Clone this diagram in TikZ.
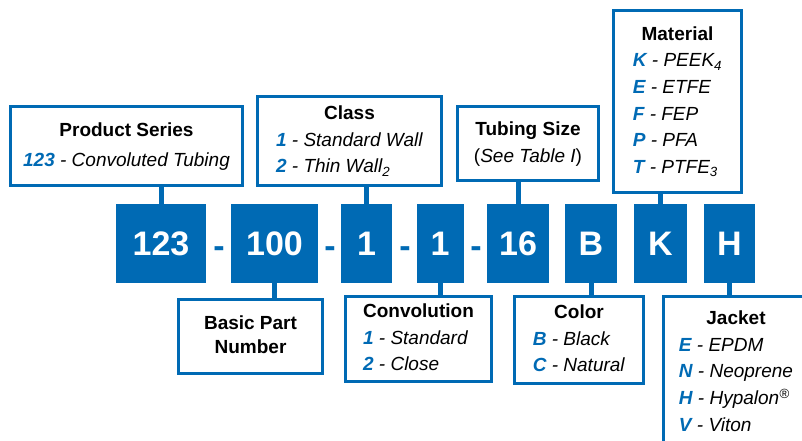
\documentclass[tikz,border=0pt]{standalone}
\usepackage{fontspec}
\setmainfont{Liberation Sans}
\usepackage{tikz}
\definecolor{partblue}{RGB}{0,106,180}
\tikzset{
    codebox/.style={
        fill=partblue,
        text=white,
        inner sep=0pt,
        minimum height=79pt,
        minimum width=#1,
        font=\fontsize{34}{40}\selectfont\bfseries
    },
    codebox/.default=52pt,
    dashmark/.style={
        text=partblue,
        inner sep=0pt,
        anchor=base,
        font=\fontsize{34}{40}\selectfont\bfseries
    },
    infobox/.style={
        draw=partblue,
        line width=3pt,
        fill=white,
        inner sep=0pt,
        font=\fontsize{19}{26.6}\selectfont
    },
    link/.style={
        draw=partblue,
        line width=5pt
    }
}
\newcommand{\codeitem}[2] {
	\textit{\textcolor{partblue}{\textbf{#1}} - #2}
}
\newcommand{\boxhead}[1]{\multicolumn{1}{@{}c@{}}{\textbf{#1}}}

\begin{document}
\begin{tikzpicture}[x=1pt,y=-1pt]
		\clip (0,0) rectangle (802,441);

		% part number
		\node[codebox=90pt] (c123) at (161,243.5) {123};
		\node[codebox=87pt] (c100) at (274.5,243.5) {100};
		\node[codebox=51pt] (cclass) at (366.5,243.5) {1};
		\node[codebox=47pt] (cconv) at (440,243.5) {1};
		\node[codebox=62pt] (csize) at (518,243.5) {16};
		\node[codebox] (ccolor) at (591,243.5) {B};
		\node[codebox=53pt] (cmat) at (660.5,243.5) {K};
		\node[codebox=51pt] (cjacket) at (729.5,243.5) {H};

		\node[dashmark] (d1) at (219,257) {-};
		\node[dashmark] (d2) at (330,257) {-};
		\node[dashmark] (d3) at (405,257) {-};
		\node[dashmark] (d4) at (476,257) {-};

		% top boxes
		\node[infobox, minimum width=232pt, minimum height=79pt] (series) at (126.5,146)
			{\begin{tabular}{@{}l@{}}\boxhead{Product Series}\\[3pt]
			\codeitem{123}{Convoluted Tubing}\end{tabular}};
		\node[infobox, minimum width=184pt, minimum height=89pt] (class) at (349.5,141)
			{\begin{tabular}{@{}l@{}}\boxhead{Class}\\
			\codeitem{1}{Standard Wall}\\
			\codeitem{2}{Thin Wall\textsubscript{2}}\end{tabular}};
		\node[infobox, minimum width=141pt, minimum height=74pt] (tsize) at (528,143.5)
			{\begin{tabular}{@{}c@{}}\textbf{Tubing Size}\\(\textit{See Table I})\end{tabular}};
		\node[infobox, minimum width=128pt, minimum height=182pt] (material) at (677.5,101.5)
			{\begin{tabular}{@{}l@{}}\boxhead{Material}\\
			\codeitem{K}{PEEK\textsubscript{4}}\\
			\codeitem{E}{ETFE}\\
			\codeitem{F}{FEP}\\
			\codeitem{P}{PFA}\\
			\codeitem{T}{PTFE\textsubscript{3}}\end{tabular}};

		% bottom boxes
		\node[infobox, minimum width=144pt, minimum height=74pt] (basic) at (250.5,336.5)
			{\begin{tabular}{@{}c@{}}\textbf{Basic Part}\\[-2.5pt]\textbf{Number}\end{tabular}};
		\node[infobox, minimum width=146pt, minimum height=85pt] (convo) at (418.5,339)
			{\begin{tabular}{@{}l@{}}\boxhead{Convolution}\\
			\codeitem{1}{Standard}\\
			\codeitem{2}{Close}\end{tabular}};
		\node[infobox, minimum width=129pt, minimum height=87pt] (color) at (579,340)
			{\begin{tabular}{@{}l@{}}\boxhead{Color}\\
			\codeitem{B}{Black}\\
			\codeitem{C}{Natural}\end{tabular}};
		\node[infobox, minimum width=145pt, minimum height=152pt] (jacket) at (736,372.5)
			{\begin{tabular}{@{}l@{}}\boxhead{Jacket}\\
			\codeitem{E}{EPDM}\\
			\codeitem{N}{Neoprene}\\
			\codeitem{H}{Hypalon\textsuperscript{\textregistered}}\\
			\codeitem{V}{Viton}\end{tabular}};

		% links
		\draw[link] (c123.north) -- (c123.north |- series.south);
		\draw[link] (cclass.north) -- (cclass.north |- class.south);
		\draw[link] (csize.north) -- (csize.north |- tsize.south);
		\draw[link] (cmat.north) -- (cmat.north |- material.south);
		\draw[link] (c100.south) -- (c100.south |- basic.north);
		\draw[link] (cconv.south) -- (cconv.south |- convo.north);
		\draw[link] (ccolor.south) -- (ccolor.south |- color.north);
		\draw[link] (cjacket.south) -- (cjacket.south |- jacket.north);

	\end{tikzpicture}
\end{document}
